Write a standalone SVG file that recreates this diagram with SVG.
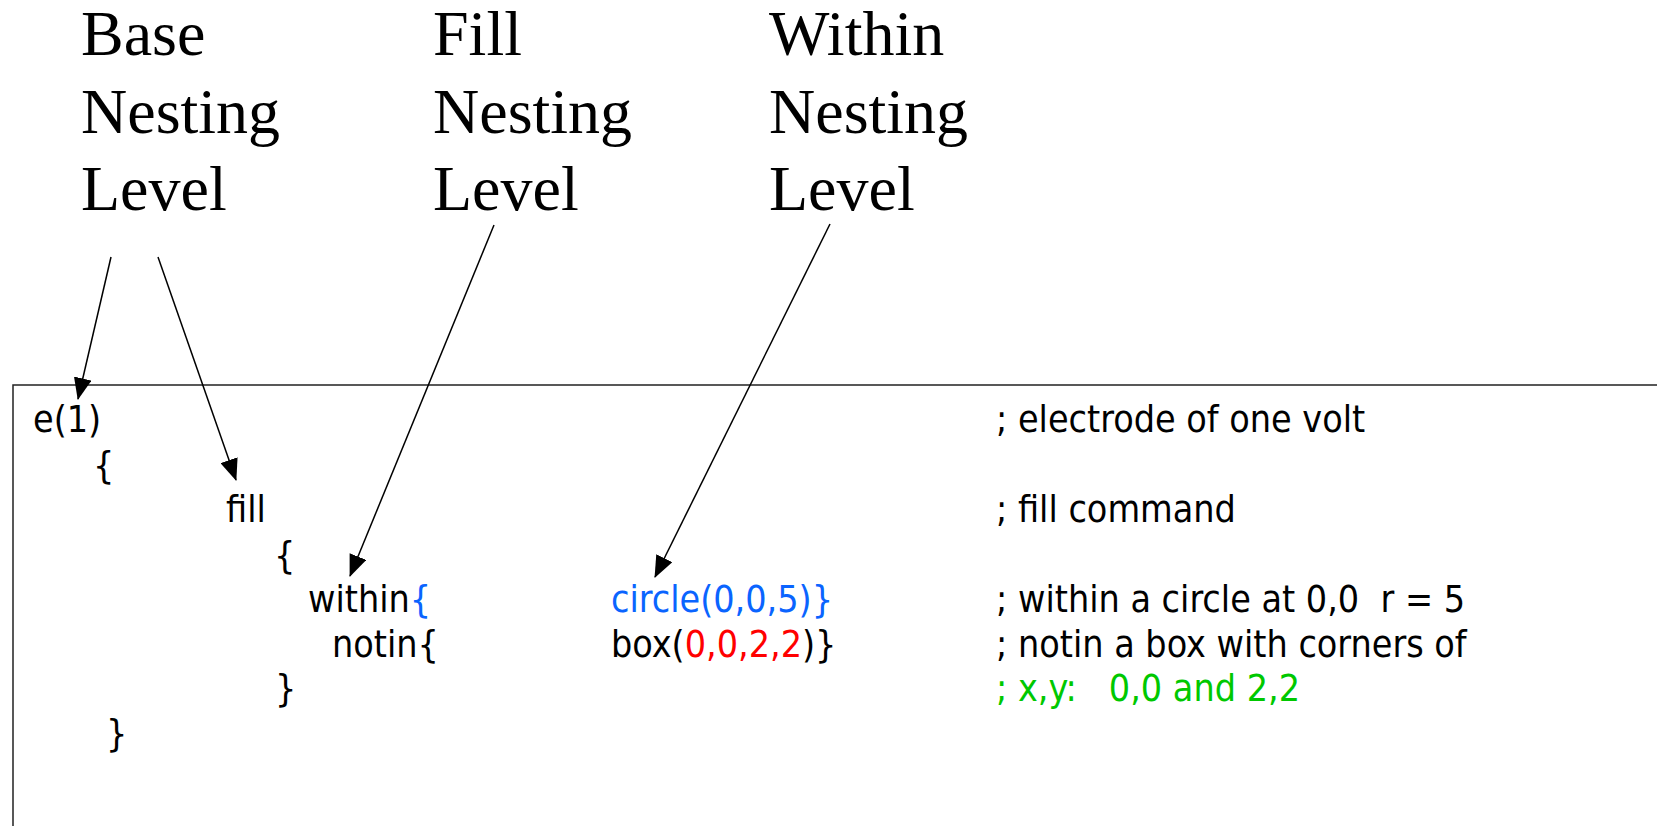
<svg xmlns="http://www.w3.org/2000/svg" width="1657" height="826" viewBox="0 0 1657 826">
<style>
.title{font-family:"Liberation Serif","Times New Roman",serif;font-size:64px;fill:#000}
.code{font-family:"DejaVu Sans Condensed","DejaVu Sans",sans-serif;font-size:37.3px;fill:#000;white-space:pre}
.blue{fill:#0A64FF}
.red{fill:#FF0000}
.green{fill:#00C800}
.conn{stroke:#000;stroke-width:1.5;fill:none;marker-end:url(#arrow)}
</style>
<defs>
<marker id="arrow" viewBox="0 0 22 18" refX="21" refY="9" markerWidth="22" markerHeight="18" markerUnits="userSpaceOnUse" orient="auto">
<path d="M0,0 L22,9 L0,18 z" fill="#000"/>
</marker>
</defs>
<rect x="0" y="0" width="1657" height="826" fill="#fff"/>
<g id="label-base">
<text class="title" x="81" y="55">Base</text>
<text class="title" x="81" y="132.5">Nesting</text>
<text class="title" x="81" y="210">Level</text>
</g>
<g id="label-fill">
<text class="title" x="433" y="55">Fill</text>
<text class="title" x="433" y="132.5">Nesting</text>
<text class="title" x="433" y="210">Level</text>
</g>
<g id="label-within">
<text class="title" x="769" y="55">Within</text>
<text class="title" x="769" y="132.5">Nesting</text>
<text class="title" x="769" y="210">Level</text>
</g>
<g id="code-box">
<rect x="13" y="385" width="1700" height="500" fill="none" stroke="#222" stroke-width="1.5"/>
</g>
<g id="code-lines">
<text class="code" x="33" y="432">e(1)</text>
<text class="code" x="93" y="478">{</text>
<text class="code" x="226" y="522">fill</text>
<text class="code" x="274" y="568">{</text>
<text class="code" x="308" y="612">within<tspan class="blue">{</tspan></text>
<text class="code" x="332" y="657">notin{</text>
<text class="code" x="275" y="701">}</text>
<text class="code" x="106" y="746">}</text>
<text class="code blue" x="611" y="612">circle(0,0,5)}</text>
<text class="code" x="611" y="657">box(<tspan class="red">0,0,2,2</tspan>)}</text>
</g>
<g id="comments">
<text class="code" x="996" y="432">; electrode of one volt</text>
<text class="code" x="996" y="522">; fill command</text>
<text class="code" x="996" y="612">; within a circle at 0,0  r = 5</text>
<text class="code" x="996" y="657">; notin a box with corners of</text>
<text class="code green" x="996" y="701">; x,y:   0,0 and 2,2</text>
</g>
<g id="connectors">
<line class="conn" x1="111" y1="257" x2="78" y2="399"/>
<line class="conn" x1="158" y1="257" x2="236" y2="480"/>
<line class="conn" x1="494" y1="225" x2="350" y2="576"/>
<line class="conn" x1="830" y1="224" x2="655" y2="577"/>
</g>
</svg>
